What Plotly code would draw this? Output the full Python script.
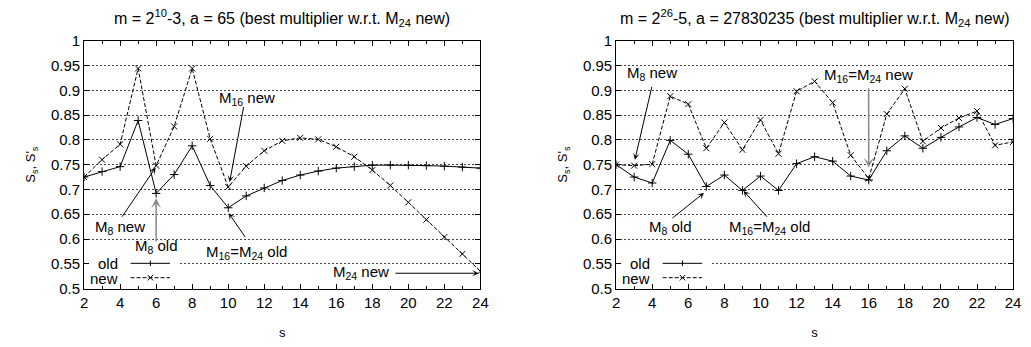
import plotly.graph_objects as go

s_vals = list(range(2, 25))

left_old = [0.725, 0.736, 0.746, 0.839, 0.692, 0.730, 0.788, 0.708, 0.663, 0.687, 0.703, 0.718,
            0.729, 0.737, 0.743, 0.746, 0.749, 0.749, 0.749, 0.748, 0.747, 0.745, 0.743]
left_new = [0.725, 0.760, 0.791, 0.944, 0.748, 0.827, 0.944, 0.802, 0.705, 0.747, 0.778, 0.798,
            0.804, 0.801, 0.786, 0.766, 0.739, 0.708, 0.674, 0.639, 0.604, 0.570, 0.535]
right_old = [0.750, 0.725, 0.713, 0.799, 0.771, 0.706, 0.729, 0.698, 0.727, 0.698, 0.752, 0.766,
             0.757, 0.727, 0.719, 0.778, 0.808, 0.783, 0.805, 0.826, 0.845, 0.831, 0.843]
right_new = [0.750, 0.748, 0.751, 0.888, 0.872, 0.783, 0.835, 0.780, 0.840, 0.772, 0.898, 0.918,
             0.875, 0.769, 0.722, 0.852, 0.903, 0.797, 0.824, 0.844, 0.858, 0.789, 0.796]

title_left = "m = 2<sup>10</sup>-3, a = 65 (best multiplier w.r.t. M<sub>24</sub> new)"
title_right = "m = 2<sup>26</sup>-5, a = 27830235 (best multiplier w.r.t. M<sub>24</sub> new)"

# labels: (text, text_s, text_y, arrow_from_s, arrow_from_y, arrow_to_s, arrow_to_y, color)
labels_left = [
    ("M<sub>16</sub> new", 11.05, 0.884, 10.87, 0.869, 10.08, 0.715, "#000"),
    ("M<sub>8</sub> new", 3.97, 0.623, 4.05, 0.642, 5.97, 0.744, "#000"),
    ("M<sub>8</sub> old", 6.03, 0.584, 6.0, 0.592, 6.0, 0.682, "#888"),
    ("M<sub>16</sub>=M<sub>24</sub> old", 11.0, 0.572, 11.0, 0.601, 10.03, 0.652, "#000"),
    ("M<sub>24</sub> new", 17.36, 0.533, 19.2, 0.531, 23.9, 0.531, "#000"),
]
labels_right = [
    ("M<sub>8</sub> new", 4.01, 0.933, 4.0, 0.910, 3.04, 0.760, "#000"),
    ("M<sub>16</sub>=M<sub>24</sub> new", 15.97, 0.930, 15.99, 0.907, 16.0, 0.744, "#888"),
    ("M<sub>8</sub> old", 5.02, 0.623, 5.04, 0.640, 6.87, 0.693, "#000"),
    ("M<sub>16</sub>=M<sub>24</sub> old", 10.52, 0.623, 10.43, 0.642, 9.06, 0.697, "#000"),
]

FONT = "Liberation Sans, Arial, sans-serif"
FS = 15
LINE_COLOR = "#000"
NEW_DASH = "4px,2px"

fig = go.Figure()

for xa, ya, old, new in [("x", "y", left_old, left_new), ("x2", "y2", right_old, right_new)]:
    fig.add_trace(go.Scatter(x=s_vals, y=old, xaxis=xa, yaxis=ya, mode="lines+markers",
                             line=dict(color=LINE_COLOR, width=1),
                             marker=dict(symbol="cross-thin", size=6, line=dict(color=LINE_COLOR, width=1)),
                             showlegend=False, hoverinfo="skip"))
    fig.add_trace(go.Scatter(x=s_vals, y=new, xaxis=xa, yaxis=ya, mode="lines+markers",
                             line=dict(color=LINE_COLOR, width=1, dash=NEW_DASH),
                             marker=dict(symbol="x-thin", size=6, line=dict(color=LINE_COLOR, width=1)),
                             showlegend=False, hoverinfo="skip"))

ydom = [0.1527, 0.904]
xaxis_common = dict(range=[2, 24], dtick=2, tick0=2, ticks="inside", ticklen=5, tickcolor="#000",
                    showline=True, linecolor="#000", linewidth=1, mirror="ticks",
                    showgrid=False, zeroline=False,
                    minor=dict(dtick=1, tick0=2, ticks="inside", ticklen=3, tickcolor="#000", showgrid=False),
                    tickfont=dict(family=FONT, size=FS, color="#000"),
                    title=dict(text="s", font=dict(family=FONT, size=FS - 2, color="#000"), standoff=18))
yaxis_common = dict(range=[0.5, 1.0], dtick=0.05, tick0=0.5, ticks="inside", ticklen=5, tickcolor="#000",
                    showline=True, linecolor="#000", linewidth=1, mirror="ticks",
                    showgrid=True, gridcolor="#444", griddash="2px,2px", gridwidth=1, zeroline=False,
                    tickfont=dict(family=FONT, size=FS, color="#000"), domain=ydom,
                    title=dict(text="S<sub>s</sub>, S'<sub>s</sub>", font=dict(family=FONT, size=FS - 2, color="#000"),
                               standoff=12))

fig.update_layout(
    width=1031, height=347,
    margin=dict(l=0, r=0, t=0, b=0),
    paper_bgcolor="white", plot_bgcolor="white",
    font=dict(family=FONT, size=FS, color="#000"),
    xaxis=dict(xaxis_common, domain=[0.0786, 0.4675], anchor="y"),
    yaxis=dict(yaxis_common, anchor="x"),
    xaxis2=dict(xaxis_common, domain=[0.6007, 0.9903], anchor="y2"),
    yaxis2=dict(yaxis_common, anchor="x2"),
)

annotations = []
shapes = []
for xr, yr, title, labels in [("x", "y", title_left, labels_left), ("x2", "y2", title_right, labels_right)]:
    annotations.append(dict(text=title, xref=xr + " domain", yref="paper", x=0.5, y=0.972,
                            xanchor="center", yanchor="middle", showarrow=False,
                            font=dict(family=FONT, size=16, color="#000")))
    for txt, tx, ty, fx, fy, tox, toy, col in labels:
        annotations.append(dict(text=txt, xref=xr, yref=yr, x=tx, y=ty, showarrow=False,
                                xanchor="center", yanchor="middle",
                                font=dict(family=FONT, size=FS, color="#000")))
        annotations.append(dict(text="", xref=xr, yref=yr, x=tox, y=toy, axref=xr, ayref=yr,
                                ax=fx, ay=fy, showarrow=True, arrowhead=3, arrowsize=1.1,
                                arrowwidth=1 if col == "#000" else 1.5, arrowcolor=col))
    # key box
    shapes.append(dict(type="rect", xref=xr, yref=yr, x0=2.06, x1=7.3, y0=0.506, y1=0.566,
                       fillcolor="white", line=dict(width=0), layer="between"))
    for name, ky, dash, sym in [("old", 0.551, "solid", "+"), ("new", 0.522, NEW_DASH, "x")]:
        annotations.append(dict(text=name, xref=xr, yref=yr, x=3.97, y=ky, xanchor="right",
                                yanchor="middle", showarrow=False, height=14,
                                font=dict(family=FONT, size=FS, color="#000")))
        shapes.append(dict(type="line", xref=xr, yref=yr, x0=4.58, x1=6.77, y0=ky, y1=ky,
                           line=dict(color=LINE_COLOR, width=1, dash=dash), layer="above"))
        cx, d, dy = 5.68, 0.15, 0.0055
        if sym == "+":
            shapes.append(dict(type="line", xref=xr, yref=yr, x0=cx, x1=cx, y0=ky - dy, y1=ky + dy,
                               line=dict(color=LINE_COLOR, width=1), layer="above"))
        else:
            shapes.append(dict(type="line", xref=xr, yref=yr, x0=cx - d, x1=cx + d, y0=ky - dy, y1=ky + dy,
                               line=dict(color=LINE_COLOR, width=1), layer="above"))
            shapes.append(dict(type="line", xref=xr, yref=yr, x0=cx - d, x1=cx + d, y0=ky + dy, y1=ky - dy,
                               line=dict(color=LINE_COLOR, width=1), layer="above"))

fig.update_layout(annotations=annotations, shapes=shapes)
fig.write_html("out.html")
